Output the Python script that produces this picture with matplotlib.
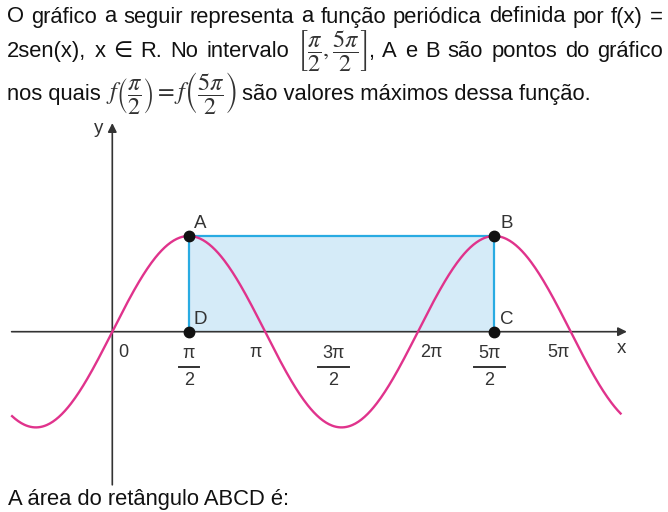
import numpy as np
import matplotlib
matplotlib.use('Agg')
import matplotlib.pyplot as plt
from matplotlib.lines import Line2D
from matplotlib.transforms import IdentityTransform

W, H = 668, 512

# function f(x) = 2 sen(x), drawn over the visible piece of the graph
amplitude = 2
curve_start, curve_end = -2.06, 10.45

# rectangle ABCD
point_names = ['A', 'B', 'C', 'D']
point_x = [np.pi / 2, 5 * np.pi / 2, 5 * np.pi / 2, np.pi / 2]
point_y = [2, 2, 0, 0]

# x tick labels (the last one really reads "5π" in the original)
tick_values = [0, np.pi / 2, np.pi, 3 * np.pi / 2, 2 * np.pi, 5 * np.pi / 2, 3 * np.pi]
tick_nums = ['0', 'π', 'π', '3π', '2π', '5π', '5π']
tick_dens = [None, '2', None, '2', None, '2', None]

line1 = 'O gráfico a seguir representa a função periódica definida por f(x) ='.split()
line2 = ['2sen(x),', 'x', '∈', 'R.', 'No', 'intervalo',
         r'$\left[\dfrac{\pi}{2},\dfrac{5\pi}{2}\right]$',
         ',', 'A', 'e', 'B', 'são', 'pontos', 'do', 'gráfico']
line3 = ['nos quais',
         r'$f\left(\dfrac{\pi}{2}\right)=f\left(\dfrac{5\pi}{2}\right)$',
         'são valores máximos dessa função.']
footer = 'A área do retângulo ABCD é:'

# styling
axis_c = '#333333'
curve_c = '#e0338c'
edge_c = '#29abe2'
fill_c = '#d5ebf8'
text_c = '#111111'
math_c = '#333333'
fam = ['Liberation Sans', 'DejaVu Sans']
text_size = 15.8
math_size = 17.5
label_dx = [11, 0, -10, -8, 13, -5, -12]

fig = plt.figure(figsize=(W / 100, H / 100), dpi=100)
ax = fig.add_axes([0, 0, 1, 1])
# origin at pixel (112.3, 331.7), ~48.6 px per unit in x, ~47.9 in y
ax.set_xlim(-112.3 / 48.64, (W - 112.3) / 48.64)
ax.set_ylim(-(H - 331.7) / 47.85, 331.7 / 47.85)
ax.axis('off')

xs = np.linspace(curve_start, curve_end, 600)
ys = amplitude * np.sin(xs)

# shaded rectangle
ax.fill_between([point_x[3], point_x[1]], [point_y[3]] * 2, [point_y[0]] * 2,
                color=fill_c, lw=0, zorder=1)

# axes with arrows
arr = dict(arrowstyle='-|>', color=axis_c, lw=1.2, mutation_scale=13,
           shrinkA=0, shrinkB=0)
ax.annotate('', xy=(10.58, 0), xytext=(-2.07, 0), arrowprops=arr, zorder=2)
ax.annotate('', xy=(0, 4.36), xytext=(0, -3.2), arrowprops=arr, zorder=2)

# rectangle edges D-A-B-C
ax.plot([point_x[3], point_x[0], point_x[1], point_x[2]],
        [point_y[3], point_y[0], point_y[1], point_y[2]],
        color=edge_c, lw=1.6, zorder=3)

ax.plot(xs, ys, color=curve_c, lw=1.7, zorder=4)
ax.plot(point_x, point_y, 'o', color='#111111', ms=7.5, zorder=5)

for name, px_, py_ in zip(point_names, point_x, point_y):
    ax.annotate(name, xy=(px_, py_), xytext=(12, 12), textcoords='offset pixels',
                ha='center', va='center', fontsize=13.5, color=axis_c, family=fam)

ax.annotate('x', xy=(10.58, 0), xytext=(-5, -17), textcoords='offset pixels',
            ha='center', va='center', fontsize=13.5, color=axis_c, family=fam)
ax.annotate('y', xy=(0, 4.36), xytext=(-14, -5), textcoords='offset pixels',
            ha='center', va='center', fontsize=13.5, color=axis_c, family=fam)

# tick labels, fractions built from numerator, bar and denominator
renderer = fig.canvas.get_renderer()
for xv, num, den, dx in zip(tick_values, tick_nums, tick_dens, label_dx):
    if den is None:
        ax.annotate(num, xy=(xv, 0), xytext=(dx, -21), textcoords='offset pixels',
                    ha='center', va='center', fontsize=13, color=axis_c, family=fam)
        continue
    t = ax.annotate(num, xy=(xv, 0), xytext=(dx, -22), textcoords='offset pixels',
                    ha='center', va='center', fontsize=13, color=axis_c, family=fam)
    ax.annotate(den, xy=(xv, 0), xytext=(dx, -49), textcoords='offset pixels',
                ha='center', va='center', fontsize=13, color=axis_c, family=fam)
    hw = t.get_window_extent(renderer).width / 2 + 4
    cx, cy = ax.transData.transform((xv, 0))
    fig.add_artist(Line2D([cx + dx - hw, cx + dx + hw], [cy - 35, cy - 35],
                          transform=IdentityTransform(), color=axis_c, lw=1.4))


def fpos(x, y):
    return x / W, 1 - y / H


def place(words, y, x0, x1=None, gap=5):
    # math pieces get a larger size and the serif math font;
    # a lone comma sticks to the piece before it
    arts = []
    for w in words:
        is_math = w.startswith('$')
        arts.append(fig.text(0, 0, w, fontsize=math_size if is_math else text_size,
                             color=math_c if is_math else text_c, family=fam,
                             va='baseline', ha='left', math_fontfamily='stix'))
    widths = [a.get_window_extent(renderer).width for a in arts]
    glued = [w == ',' for w in words]
    if x1 is not None:
        n_gaps = len(words) - 1 - sum(glued)
        gap = (x1 - x0 - sum(widths)) / n_gaps
    x = x0
    for i, (a, w) in enumerate(zip(arts, widths)):
        if i > 0:
            x += 0 if glued[i] else gap
        a.set_position(fpos(x, y))
        x += w


place(line1, 22.5, 7, 663)
place(line2, 57, 7, 663)
place(line3, 100, 7, gap=5)
place([footer], 505, 8)

fig.savefig('out.png', dpi=100)
